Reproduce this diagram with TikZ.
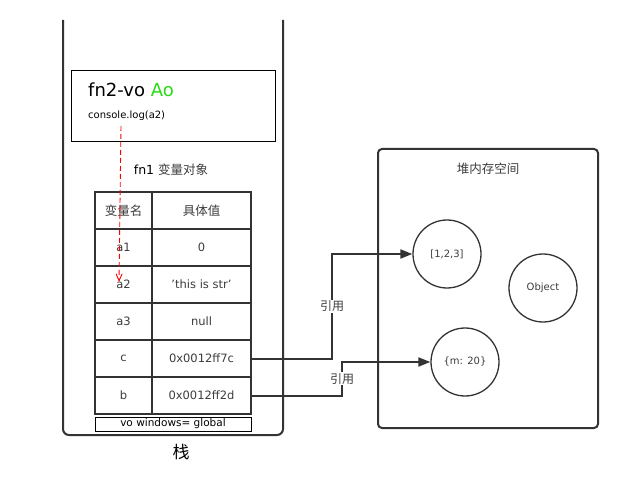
\documentclass[tikz,border=0pt]{standalone}
\usepackage{fontspec}
\setmainfont{DejaVu Sans}
\newfontfamily\cjk{Noto Sans CJK SC}
\usepackage{tikz}
\usepackage{xcolor}
\usetikzlibrary{arrows.meta, positioning}
\definecolor{wallgray}{RGB}{51,51,51}
\definecolor{txtgray}{RGB}{60,60,60}
\definecolor{aogreen}{RGB}{40,220,20}

\begin{document}
\begin{tikzpicture}[x=1pt,y=-1pt,
  wall/.style={draw=wallgray,line width=2pt},
  namecell/.style={draw=wallgray,line width=2pt,outer sep=0pt,minimum width=57pt,
    minimum height=37pt,font=\fontsize{11.5}{13}\selectfont,text=txtgray},
  valcell/.style={namecell,minimum width=99pt},
  heapobj/.style={circle,draw=wallgray,line width=1.3pt,minimum size=68pt,
    font=\fontsize{10}{12}\selectfont,text=txtgray},
  ref/.style={draw=wallgray,line width=2pt,-{Triangle[length=12pt,width=9pt]}},
  reflabel/.style={fill=white,inner sep=1pt,font=\cjk\fontsize{12}{14}\selectfont,text=txtgray}]
  \useasboundingbox (0,0) rectangle (627,489);
  % stack
  \draw[wall,rounded corners=6pt] (63,20) -- (63,435) -- (283,435) -- (283,20);
  \node[font=\cjk\fontsize{17}{19}\selectfont](stk) at (181,452){栈};
  % fn2 context
  \node[draw=black,line width=1pt,minimum width=204pt,minimum height=71pt](fn2) at (173,106.5){};
  \node[anchor=west,font=\fontsize{18}{20}\selectfont,inner sep=0pt](fn2t) at (88,90)
    {fn2-vo \textcolor{aogreen}{Ao}};
  \node[anchor=west,font=\fontsize{10}{12}\selectfont,inner sep=0pt](cl) at (88,116){console.log(a2)};
  \node[font=\fontsize{12.5}{14}\selectfont](fn1) at (171,170){fn1 {\cjk\color{txtgray}变量对象}};
  % fn1 table
  \node[namecell](n0) at (123.5,210.5){\cjk\fontsize{12.5}{14}\selectfont 变量名};
  \node[valcell,right=0pt of n0](v0){\cjk\fontsize{12.5}{14}\selectfont 具体值};
  \node[namecell,below=0pt of n0](n1){a1};
  \node[valcell,right=0pt of n1](v1){0};
  \node[namecell,below=0pt of n1](n2){a2};
  \node[valcell,right=0pt of n2](v2){'this is str'};
  \node[namecell,below=0pt of n2](n3){a3};
  \node[valcell,right=0pt of n3](v3){null};
  \node[namecell,below=0pt of n3](n4){c};
  \node[valcell,right=0pt of n4](v4){0x0012ff7c};
  \node[namecell,below=0pt of n4](n5){b};
  \node[valcell,right=0pt of n5](v5){0x0012ff2d};
  \node[draw=black,line width=0.8pt,minimum width=156pt,minimum height=14pt,inner sep=0pt,
    font=\fontsize{10.5}{11}\selectfont](vo) at (173,424){vo windows= global};
  % lookup of a2
  \coordinate (dstart) at (121,126);
  \coordinate (dend) at (119,282);
  \draw[red,dash pattern=on 5pt off 3pt,line width=0.9pt,-{Straight Barb[length=7pt,width=6pt]}]
    (dstart) -- (dend);
  % heap
  \draw[wall,rounded corners=4pt] (378,149) rectangle (598,428);
  \node[font=\cjk\fontsize{12.5}{14}\selectfont,text=txtgray](heap) at (488,169){堆内存空间};
  \node[heapobj](arr) at (447,254){[1,2,3]};
  \node[heapobj](obj) at (543,288){Object};
  \node[heapobj](mobj) at (465,362){\{m: 20\}};
  % references
  \coordinate (k1) at (332,0);
  \coordinate (k2) at (342,0);
  \draw[ref] (v4.east) -- (v4.east -| k1) |- node[pos=0.25,reflabel]{引用} (arr.west);
  \draw[ref] (v5.east) -- (v5.east -| k2) |- node[pos=0.25,reflabel]{引用} (mobj.west);
\end{tikzpicture}
\end{document}
